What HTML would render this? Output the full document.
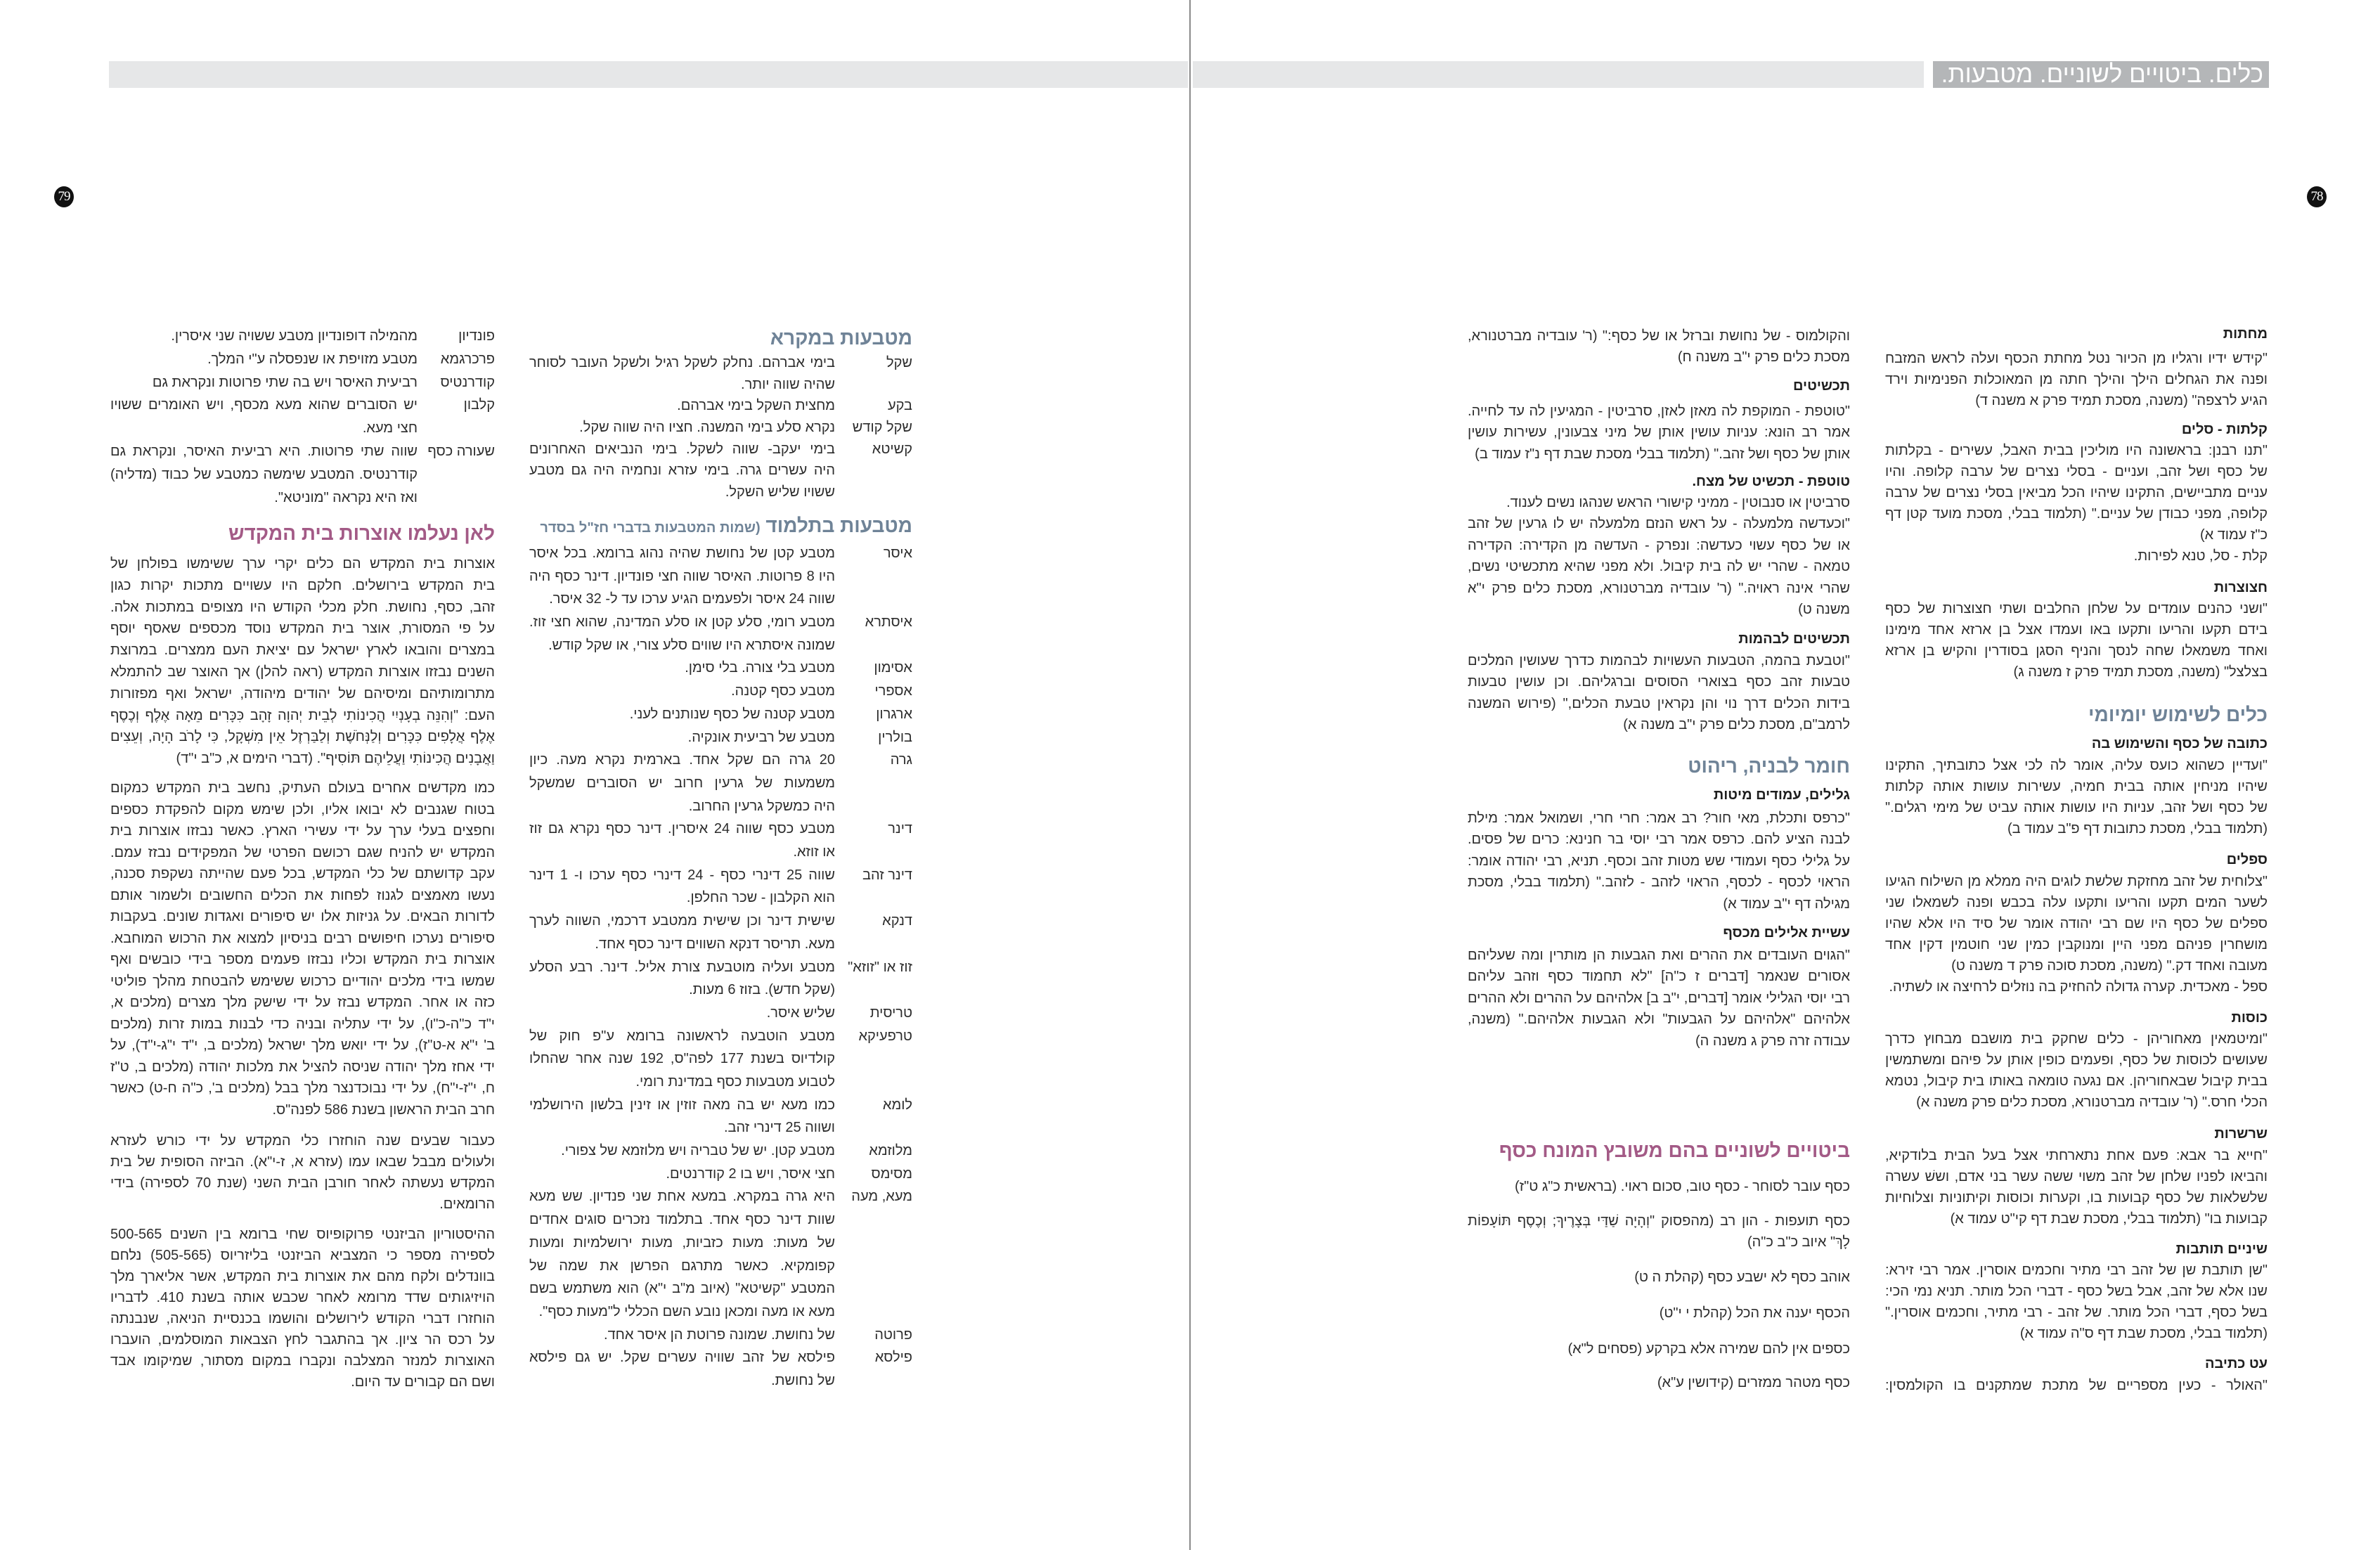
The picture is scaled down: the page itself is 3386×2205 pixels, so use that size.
<!DOCTYPE html>
<html lang="he"><head><meta charset="utf-8">
<style>
html,body{margin:0;padding:0;background:#fff}
#pg{position:relative;width:3386px;height:2205px;overflow:hidden;background:#fff;font-family:"Liberation Sans","DejaVu Sans",sans-serif;color:#2c2c2c}
.b{position:absolute;direction:rtl;font-size:20px}
.b div{text-align:justify;text-align-last:justify;white-space:normal;overflow:hidden}
.b div.e,.b div.h,.b div.H{text-align:right;text-align-last:right}
.h{font-weight:bold;color:#1e1e1e;font-size:20px}
.H{font-weight:bold;font-size:28px}
.blue{color:#6f8397}.mag{color:#a35a86}
.A{left:2682px;width:544px;line-height:30px}
.A div{height:30px}
.B{left:2088px;width:544px;line-height:30.4px}
.B div{height:30.4px}
.C{left:753px;width:545px}
.D{left:157px;width:547px}
.r{position:relative;overflow:visible!important}
.lab{position:absolute;right:0;top:0;white-space:nowrap}
.tx{margin-right:110px}
.tx div{height:inherit}
.circ{position:absolute;width:28px;height:30px;border-radius:50%;background:#111;color:#fff;font-family:"Liberation Serif",serif;font-size:19px;line-height:30px;text-align:center;letter-spacing:-1px}
</style></head><body><div id="pg">

<div style="position:absolute;left:155px;top:87px;width:1535px;height:38px;background:#e6e7e8"></div>
<div style="position:absolute;left:1697px;top:87px;width:1040px;height:38px;background:#e6e7e8"></div>
<div style="position:absolute;left:2750px;top:87px;width:478px;height:38px;background:#b4b6b8;color:#fff;direction:rtl;font-size:35px;line-height:38px;text-align:right;white-space:nowrap;overflow:hidden"><span style="padding-right:8px">כלים. ביטויים לשוניים. מטבעות.</span></div>
<div style="position:absolute;left:1692px;top:0;width:2px;height:2205px;background:#8a8a8a"></div>
<div class="circ" style="left:3282px;top:265px">78</div>
<div class="circ" style="left:77px;top:265px">79</div>

<!-- ===== Column A ===== -->
<div class="b A" style="top:460px"><div class="h">מחתות</div></div>
<div class="b A" style="top:495px">
<div>"קידש ידיו ורגליו מן הכיור נטל מחתת הכסף ועלה לראש המזבח</div>
<div>ופנה את הגחלים הילך והילך חתה מן המאוכלות הפנימיות וירד</div>
<div class="e">הגיע לרצפה" (משנה, מסכת תמיד פרק א משנה ד)</div>
</div>
<div class="b A" style="top:596px"><div class="h">קלתות - סלים</div></div>
<div class="b A" style="top:626px">
<div>"תנו רבנן: בראשונה היו מוליכין בבית האבל, עשירים - בקלתות</div>
<div>של כסף ושל זהב, ועניים - בסלי נצרים של ערבה קלופה. והיו</div>
<div>עניים מתביישים, התקינו שיהיו הכל מביאין בסלי נצרים של ערבה</div>
<div>קלופה, מפני כבודן של עניים." (תלמוד בבלי, מסכת מועד קטן דף</div>
<div class="e">כ"ז עמוד א)</div>
<div class="e">קלת - סל, טנא לפירות.</div>
</div>
<div class="b A" style="top:821px"><div class="h">חצוצרות</div></div>
<div class="b A" style="top:851px">
<div>"ושני כהנים עומדים על שלחן החלבים ושתי חצוצרות של כסף</div>
<div>בידם תקעו והריעו ותקעו באו ועמדו אצל בן ארזא אחד מימינו</div>
<div>ואחד משמאלו שחה לנסך והניף הסגן בסודרין והקיש בן ארזא</div>
<div class="e">בצלצל" (משנה, מסכת תמיד פרק ז משנה ג)</div>
</div>
<div class="b A" style="top:998px"><div class="H blue" style="height:38px;line-height:38px">כלים לשימוש יומיומי</div></div>
<div class="b A" style="top:1043px"><div class="h">כתובה של כסף והשימוש בה</div></div>
<div class="b A" style="top:1074px">
<div>"ועדיין כשהוא כועס עליה, אומר לה לכי אצל כתובתיך, התקינו</div>
<div>שיהיו מניחין אותה בבית חמיה, עשירות עושות אותה קלתות</div>
<div>של כסף ושל זהב, עניות היו עושות אותה עביט של מימי רגלים."</div>
<div class="e">(תלמוד בבלי, מסכת כתובות דף פ"ב עמוד ב)</div>
</div>
<div class="b A" style="top:1208px"><div class="h">ספלים</div></div>
<div class="b A" style="top:1239px;line-height:30.6px">
<div>"צלוחית של זהב מחזקת שלשת לוגים היה ממלא מן השילוח הגיעו</div>
<div>לשער המים תקעו והריעו ותקעו עלה בכבש ופנה לשמאלו שני</div>
<div>ספלים של כסף היו שם רבי יהודה אומר של סיד היו אלא שהיו</div>
<div>מושחרין פניהם מפני היין ומנוקבין כמין שני חוטמין דקין אחד</div>
<div class="e">מעובה ואחד דק." (משנה, מסכת סוכה פרק ד משנה ט)</div>
<div class="e">ספל - מאכדית. קערה גדולה להחזיק בה נוזלים לרחיצה או לשתיה.</div>
</div>
<div class="b A" style="top:1433px"><div class="h">כוסות</div></div>
<div class="b A" style="top:1463px;line-height:30.6px">
<div>"ומיטמאין מאחוריהן - כלים שחקק בית מושבם מבחוץ כדרך</div>
<div>שעושים לכוסות של כסף, ופעמים כופין אותן על פיהם ומשתמשין</div>
<div>בבית קיבול שבאחוריהן. אם נגעה טומאה באותו בית קיבול, נטמא</div>
<div class="e">הכלי חרס." (ר' עובדיה מברטנורא, מסכת כלים פרק משנה א)</div>
</div>
<div class="b A" style="top:1598px"><div class="h">שרשרות</div></div>
<div class="b A" style="top:1629px;line-height:30.6px">
<div>"חייא בר אבא: פעם אחת נתארחתי אצל בעל הבית בלודקיא,</div>
<div>והביאו לפניו שלחן של זהב משוי ששה עשר בני אדם, וששׁ עשרה</div>
<div>שלשלאות של כסף קבועות בו, וקערות וכוסות וקיתוניות וצלוחיות</div>
<div class="e">קבועות בו" (תלמוד בבלי, מסכת שבת דף קי"ט עמוד א)</div>
</div>
<div class="b A" style="top:1762px"><div class="h">שיניים תותבות</div></div>
<div class="b A" style="top:1792px;line-height:30.6px">
<div>"שן תותבת שן של זהב רבי מתיר וחכמים אוסרין. אמר רבי זירא: לא</div>
<div>שנו אלא של זהב, אבל בשל כסף - דברי הכל מותר. תניא נמי הכי:</div>
<div>בשל כסף, דברי הכל מותר. של זהב - רבי מתיר, וחכמים אוסרין."</div>
<div class="e">(תלמוד בבלי, מסכת שבת דף ס"ה עמוד א)</div>
</div>
<div class="b A" style="top:1925px"><div class="h">עט כתיבה</div></div>
<div class="b A" style="top:1956px">
<div>"האולר - כעין מספריים של מתכת שמתקנים בו הקולמסין:</div>
</div>

<!-- ===== Column B ===== -->
<div class="b B" style="top:463px">
<div>והקולמוס - של נחושת וברזל או של כסף:" (ר' עובדיה מברטנורא,</div>
<div class="e">מסכת כלים פרק י"ב משנה ח)</div>
</div>
<div class="b B" style="top:534px"><div class="h">תכשיטים</div></div>
<div class="b B" style="top:570px">
<div>"טוטפת - המוקפת לה מאזן לאזן, סרביטין - המגיעין לה עד לחייה.</div>
<div>אמר רב הונא: עניות עושין אותן של מיני צבעונין, עשירות עושין</div>
<div class="e">אותן של כסף ושל זהב." (תלמוד בבלי מסכת שבת דף נ"ז עמוד ב)</div>
</div>
<div class="b B" style="top:670px"><div class="h">טוטפת - תכשיט של מצח.</div></div>
<div class="b B" style="top:700px">
<div class="e">סרביטין או סנבוטין - ממיני קישורי הראש שנהגו נשים לענוד.</div>
<div>"וכעדשה מלמעלה - על ראש הנזם מלמעלה יש לו גרעין של זהב</div>
<div>או של כסף עשוי כעדשה: ונפרק - העדשה מן הקדירה: הקדירה</div>
<div>טמאה - שהרי יש לה בית קיבול. ולא מפני שהיא מתכשיטי נשים,</div>
<div>שהרי אינה ראויה." (ר' עובדיה מברטנורא, מסכת כלים פרק י"א</div>
<div class="e">משנה ט)</div>
</div>
<div class="b B" style="top:894px"><div class="h">תכשיטים לבהמות</div></div>
<div class="b B" style="top:925px">
<div>"וטבעת בהמה, הטבעות העשויות לבהמות כדרך שעושין המלכים</div>
<div>טבעות זהב כסף בצוארי הסוסים וברגליהם. וכן עושין טבעות</div>
<div>בידות הכלים דרך נוי והן נקראין טבעת הכלים," (פירוש המשנה</div>
<div class="e">לרמב"ם, מסכת כלים פרק י"ב משנה א)</div>
</div>
<div class="b B" style="top:1071px"><div class="H blue" style="height:38px;line-height:38px">חומר לבניה, ריהוט</div></div>
<div class="b B" style="top:1116px"><div class="h">גלילים, עמודים מיטות</div></div>
<div class="b B" style="top:1149px">
<div>"כרפס ותכלת, מאי חור? רב אמר: חרי חרי, ושמואל אמר: מילת</div>
<div>לבנה הציע להם. כרפס אמר רבי יוסי בר חנינא: כרים של פסים.</div>
<div>על גלילי כסף ועמודי שש מטות זהב וכסף. תניא, רבי יהודה אומר:</div>
<div>הראוי לכסף - לכסף, הראוי לזהב - לזהב." (תלמוד בבלי, מסכת</div>
<div class="e">מגילה דף י"ב עמוד א)</div>
</div>
<div class="b B" style="top:1312px"><div class="h">עשיית אלילים מכסף</div></div>
<div class="b B" style="top:1344px">
<div>"הגוים העובדים את ההרים ואת הגבעות הן מותרין ומה שעליהם</div>
<div>אסורים שנאמר [דברים ז כ"ה] "לא תחמוד כסף וזהב עליהם ולקחת".</div>
<div>רבי יוסי הגלילי אומר [דברים, י"ב ב] אלהיהם על ההרים ולא ההרים</div>
<div>אלהיהם "אלהיהם על הגבעות" ולא הגבעות אלהיהם." (משנה, מסכת</div>
<div class="e">עבודה זרה פרק ג משנה ה)</div>
</div>
<div class="b B" style="top:1618px"><div class="H mag" style="height:38px;line-height:38px">ביטויים לשוניים בהם משובץ המונח כסף</div></div>
<div class="b B" style="top:1673px"><div class="e">כסף עובר לסוחר - כסף טוב, סכום ראוי. (בראשית כ"ג ט"ז)</div></div>
<div class="b B" style="top:1722px">
<div>כסף תועפות - הון רב (מהפסוק "וְהָיָה שַׁדַּי בְּצָרֶיךָ; וְכֶסֶף תּוֹעָפוֹת</div>
<div class="e">לָךְ" איוב כ"ב כ"ה)</div>
</div>
<div class="b B" style="top:1802px"><div class="e">אוהב כסף לא ישבע כסף (קהלת ה ט)</div></div>
<div class="b B" style="top:1853px"><div class="e">הכסף יענה את הכל (קהלת י י"ט)</div></div>
<div class="b B" style="top:1904px"><div class="e">כספים אין להם שמירה אלא בקרקע (פסחים ל"א)</div></div>
<div class="b B" style="top:1952px"><div class="e">כסף מטהר ממזרים (קידושין ע"א)</div></div>

<!-- ===== Column C ===== -->
<div class="b C" style="top:462px"><div class="H blue" style="height:38px;line-height:38px">מטבעות במקרא</div></div>
<div class="b C" style="top:501px;line-height:30.7px">
<div class="r" style="height:61.4px"><span class="lab">שקל</span><div class="tx"><div style="height:30.7px">בימי אברהם. נחלק לשקל רגיל ולשקל העובר לסוחר</div><div class="e" style="height:30.7px">שהיה שווה יותר.</div></div></div>
<div class="r" style="height:30.7px"><span class="lab">בקע</span><div class="tx"><div class="e" style="height:30.7px">מחצית השקל בימי אברהם.</div></div></div>
<div class="r" style="height:30.7px"><span class="lab">שקל קודש</span><div class="tx"><div class="e" style="height:30.7px">נקרא סלע בימי המשנה. חציו היה שווה שקל.</div></div></div>
<div class="r" style="height:92.1px"><span class="lab">קשיטא</span><div class="tx"><div style="height:30.7px">בימי יעקב- שווה לשקל. בימי הנביאים האחרונים</div><div style="height:30.7px">היה עשרים גרה. בימי עזרא ונחמיה היה גם מטבע</div><div class="e" style="height:30.7px">ששויו שליש השקל.</div></div></div>
</div>
<div class="b C" style="top:730px"><div class="H blue" style="height:36px;line-height:36px">מטבעות בתלמוד <span style="font-size:20px">(שמות המטבעות בדברי חז"ל בסדר הא"ב)</span></div></div>
<div class="b C" style="top:771px;line-height:32.7px">
<div class="r" style="height:98.1px"><span class="lab">איסר</span><div class="tx"><div style="height:32.7px">מטבע קטן של נחושת שהיה נהוג ברומא. בכל איסר</div><div style="height:32.7px">היו 8 פרוטות. האיסר שווה חצי פונדיון. דינר כסף היה</div><div class="e" style="height:32.7px">שווה 24 איסר ולפעמים הגיע ערכו עד ל- 32 איסר.</div></div></div>
<div class="r" style="height:65.4px"><span class="lab">איסתרא</span><div class="tx"><div style="height:32.7px">מטבע רומי, סלע קטן או סלע המדינה, שהוא חצי זוז.</div><div class="e" style="height:32.7px">שמונה איסתרא היו שווים סלע צורי, או שקל קודש.</div></div></div>
<div class="r" style="height:32.7px"><span class="lab">אסימון</span><div class="tx"><div class="e" style="height:32.7px">מטבע בלי צורה. בלי סימן.</div></div></div>
<div class="r" style="height:32.7px"><span class="lab">אספרי</span><div class="tx"><div class="e" style="height:32.7px">מטבע כסף קטנה.</div></div></div>
<div class="r" style="height:32.7px"><span class="lab">ארגרון</span><div class="tx"><div class="e" style="height:32.7px">מטבע קטנה של כסף שנותנים לעני.</div></div></div>
<div class="r" style="height:32.7px"><span class="lab">בולרין</span><div class="tx"><div class="e" style="height:32.7px">מטבע של רביעית אונקיה.</div></div></div>
<div class="r" style="height:98.1px"><span class="lab">גרה</span><div class="tx"><div style="height:32.7px">20 גרה הם שקל אחד. בארמית נקרא מעה. כיון שלמילה</div><div style="height:32.7px">משמעות של גרעין חרוב יש הסוברים שמשקל המטבע</div><div class="e" style="height:32.7px">היה כמשקל גרעין החרוב.</div></div></div>
<div class="r" style="height:65.4px"><span class="lab">דינר</span><div class="tx"><div style="height:32.7px">מטבע כסף שווה 24 איסרין. דינר כסף נקרא גם זוז</div><div class="e" style="height:32.7px">או זוזא.</div></div></div>
<div class="r" style="height:65.4px"><span class="lab">דינר זהב</span><div class="tx"><div style="height:32.7px">שווה 25 דינרי כסף - 24 דינרי כסף ערכו ו- 1 דינר כסף</div><div class="e" style="height:32.7px">הוא הקלבון - שכר החלפן.</div></div></div>
<div class="r" style="height:65.4px"><span class="lab">דנקא</span><div class="tx"><div style="height:32.7px">שישית דינר וכן שישית ממטבע דרכמי, השווה לערך</div><div class="e" style="height:32.7px">מעא. תריסר דנקא השווים דינר כסף אחד.</div></div></div>
<div class="r" style="height:65.4px"><span class="lab">זוז או "זוזא"</span><div class="tx"><div style="height:32.7px">מטבע ועליה מוטבעת צורת אליל. דינר. רבע הסלע</div><div class="e" style="height:32.7px">(שקל חדש). בזוז 6 מעות.</div></div></div>
<div class="r" style="height:32.7px"><span class="lab">טריסית</span><div class="tx"><div class="e" style="height:32.7px">שליש איסר.</div></div></div>
<div class="r" style="height:98.1px"><span class="lab">טרפעיקא</span><div class="tx"><div style="height:32.7px">מטבע הוטבעה לראשונה ברומא ע"פ חוק של</div><div style="height:32.7px">קולדיוס בשנת 177 לפה"ס, 192 שנה אחר שהחלו</div><div class="e" style="height:32.7px">לטבוע מטבעות כסף במדינת רומי.</div></div></div>
<div class="r" style="height:65.4px"><span class="lab">לומא</span><div class="tx"><div style="height:32.7px">כמו מעא יש בה מאה זוזין או זינין בלשון הירושלמי</div><div class="e" style="height:32.7px">ושווה 25 דינרי זהב.</div></div></div>
<div class="r" style="height:32.7px"><span class="lab">מלוזמא</span><div class="tx"><div class="e" style="height:32.7px">מטבע קטן. יש של טבריה ויש מלוזמא של צפורי.</div></div></div>
<div class="r" style="height:32.7px"><span class="lab">מסימס</span><div class="tx"><div class="e" style="height:32.7px">חצי איסר, ויש בו 2 קודרנטים.</div></div></div>
<div class="r" style="height:196.2px"><span class="lab">מעא, מעה</span><div class="tx"><div style="height:32.7px">היא גרה במקרא. במעא אחת שני פנדיון. שש מעא</div><div style="height:32.7px">שוות דינר כסף אחד. בתלמוד נזכרים סוגים אחדים</div><div style="height:32.7px">של מעות: מעות כזביות, מעות ירושלמיות ומעות</div><div style="height:32.7px">קפומקיא. כאשר מתרגם הפרשן את שמה של</div><div style="height:32.7px">המטבע "קשיטא" (איוב מ"ב י"א) הוא משתמש בשם</div><div class="e" style="height:32.7px">מעא או מעה ומכאן נובע השם הכללי ל"מעות כסף".</div></div></div>
<div class="r" style="height:32.7px"><span class="lab">פרוטה</span><div class="tx"><div class="e" style="height:32.7px">של נחושת. שמונה פרוטת הן איסר אחד.</div></div></div>
<div class="r" style="height:65.4px"><span class="lab">פילסא</span><div class="tx"><div style="height:32.7px">פילסא של זהב שוויה עשרים שקל. יש גם פילסא</div><div class="e" style="height:32.7px">של נחושת.</div></div></div>
</div>

<!-- ===== Column D ===== -->
<div class="b D" style="top:462px;line-height:32.8px">
<div class="r" style="height:32.8px"><span class="lab">פונדיון</span><div class="tx"><div class="e" style="height:32.8px">מהמילה דופונדיון מטבע ששויה שני איסרין.</div></div></div>
<div class="r" style="height:32.8px"><span class="lab">פרכרגמא</span><div class="tx"><div class="e" style="height:32.8px">מטבע מזויפת או שנפסלה ע"י המלך.</div></div></div>
<div class="r" style="height:32.8px"><span class="lab">קודרנטיס</span><div class="tx"><div class="e" style="height:32.8px">רביעית האיסר ויש בה שתי פרוטות ונקראת גם קונטרינק.</div></div></div>
<div class="r" style="height:65.6px"><span class="lab">קלבון</span><div class="tx"><div style="height:32.8px">יש הסוברים שהוא מעא מכסף, ויש האומרים ששויו</div><div class="e" style="height:32.8px">חצי מעא.</div></div></div>
<div class="r" style="height:98.4px"><span class="lab">שעורה כסף</span><div class="tx"><div style="height:32.8px">שווה שתי פרוטות. היא רביעית האיסר, ונקראת גם</div><div style="height:32.8px">קודרנטיס. המטבע שימשה כמטבע של כבוד (מדליה)</div><div class="e" style="height:32.8px">ואז היא נקראה "מוניטא".</div></div></div>
</div>
<div class="b D" style="top:740px"><div class="H mag" style="height:38px;line-height:38px">לאן נעלמו אוצרות בית המקדש</div></div>
<div class="b D" style="top:787px;line-height:30.8px">
<div style="height:30.8px">אוצרות בית המקדש הם כלים יקרי ערך ששימשו בפולחן של</div>
<div style="height:30.8px">בית המקדש בירושלים. חלקם היו עשויים מתכות יקרות כגון</div>
<div style="height:30.8px">זהב, כסף, נחושת. חלק מכלי הקודש היו מצופים במתכות אלה.</div>
<div style="height:30.8px">על פי המסורת, אוצר בית המקדש נוסד מכספים שאסף יוסף</div>
<div style="height:30.8px">במצרים והובאו לארץ ישראל עם יציאת העם ממצרים. במרוצת</div>
<div style="height:30.8px">השנים נבזזו אוצרות המקדש (ראה להלן) אך האוצר שב להתמלא</div>
<div style="height:30.8px">מתרומותיהם ומיסיהם של יהודים מיהודה, ישראל ואף מפזורות</div>
<div style="height:30.8px">העם: "וְהִנֵּה בְעָנְיִי הֲכִינוֹתִי לְבֵית יְהוָה זָהָב כִּכָּרִים מֵאָה אֶלֶף וְכֶסֶף</div>
<div style="height:30.8px">אֶלֶף אֲלָפִים כִּכָּרִים וְלַנְּחֹשֶׁת וְלַבַּרְזֶל אֵין מִשְׁקָל, כִּי לָרֹב הָיָה, וְעֵצִים</div>
<div class="e" style="height:30.8px">וַאֲבָנִים הֲכִינוֹתִי וַעֲלֵיהֶם תּוֹסִיף". (דברי הימים א, כ"ב י"ד)</div>
</div>
<div class="b D" style="top:1106px;line-height:30.5px">
<div style="height:30.5px">כמו מקדשים אחרים בעולם העתיק, נחשב בית המקדש כמקום</div>
<div style="height:30.5px">בטוח שגנבים לא יבואו אליו, ולכן שימש מקום להפקדת כספים</div>
<div style="height:30.5px">וחפצים בעלי ערך על ידי עשירי הארץ. כאשר נבזזו אוצרות בית</div>
<div style="height:30.5px">המקדש יש להניח שגם רכושם הפרטי של המפקידים נבזז עמם.</div>
<div style="height:30.5px">עקב קדושתם של כלי המקדש, בכל פעם שהייתה נשקפת סכנה,</div>
<div style="height:30.5px">נעשו מאמצים לגנוז לפחות את הכלים החשובים ולשמור אותם</div>
<div style="height:30.5px">לדורות הבאים. על גניזות אלו יש סיפורים ואגדות שונים. בעקבות</div>
<div style="height:30.5px">סיפורים נערכו חיפושים רבים בניסיון למצוא את הרכוש המוחבא.</div>
<div style="height:30.5px">אוצרות בית המקדש וכליו נבזזו פעמים מספר בידי כובשים ואף</div>
<div style="height:30.5px">שמשו בידי מלכים יהודיים כרכוש ששימש להבטחת מהלך פוליטי</div>
<div style="height:30.5px">כזה או אחר. המקדש נבזז על ידי שישק מלך מצרים (מלכים א,</div>
<div style="height:30.5px">י"ד כ"ה-כ"ו), על ידי עתליה ובניה כדי לבנות במות זרות (מלכים</div>
<div style="height:30.5px">ב' י"א א-ט"ז), על ידי יואש מלך ישראל (מלכים ב, י"ד י"ג-י"ד), על</div>
<div style="height:30.5px">ידי אחז מלך יהודה שניסה להציל את מלכות יהודה (מלכים ב, ט"ז</div>
<div style="height:30.5px">ח, י"ז-י"ח), על ידי נבוכדנצר מלך בבל (מלכים ב', כ"ה ח-ט) כאשר</div>
<div class="e" style="height:30.5px">חרב הבית הראשון בשנת 586 לפנה"ס.</div>
</div>
<div class="b D" style="top:1608px;line-height:30px">
<div style="height:30px">כעבור שבעים שנה הוחזרו כלי המקדש על ידי כורש לעזרא</div>
<div style="height:30px">ולעולים מבבל שבאו עמו (עזרא א, ז-י"א). הביזה הסופית של בית</div>
<div style="height:30px">המקדש נעשתה לאחר חורבן הבית השני (שנת 70 לספירה) בידי</div>
<div class="e" style="height:30px">הרומאים.</div>
</div>
<div class="b D" style="top:1741px;line-height:30px">
<div style="height:30px">ההיסטוריון הביזנטי פרוקופיוס שחי ברומא בין השנים 500-565</div>
<div style="height:30px">לספירה מספר כי המצביא הביזנטי בליזריוס (505-565) נלחם</div>
<div style="height:30px">בוונדלים ולקח מהם את אוצרות בית המקדש, אשר אליארך מלך</div>
<div style="height:30px">הויזיגותים שדד מרומא לאחר שכבש אותה בשנת 410. לדבריו</div>
<div style="height:30px">הוחזרו דברי הקודש לירושלים והושמו בכנסיית הניאה, שנבנתה</div>
<div style="height:30px">על רכס הר ציון. אך בהתגבר לחץ הצבאות המוסלמים, הועברו</div>
<div style="height:30px">האוצרות למנזר המצלבה ונקברו במקום מסתור, שמיקומו אבד</div>
<div class="e" style="height:30px">ושם הם קבורים עד היום.</div>
</div>

</div></body></html>
